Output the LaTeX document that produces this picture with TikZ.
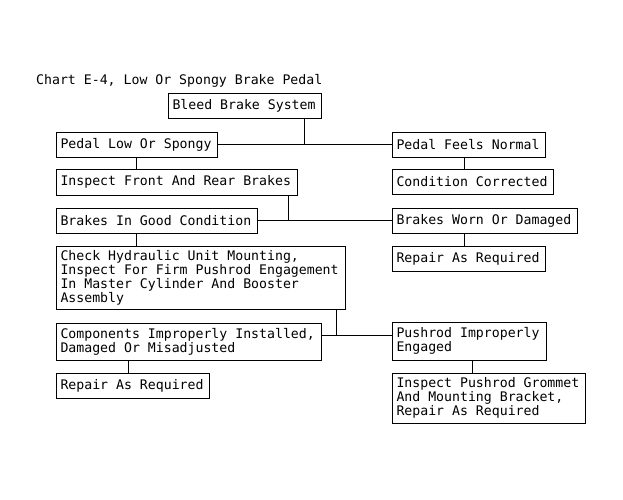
\documentclass[tikz,border=0pt]{standalone}
\usepackage{fontspec}
\newfontfamily\monofam{DejaVu Sans Mono}
\newcommand{\boxfont}{\monofam\fontsize{13.2}{12.5}\selectfont}
\begin{document}
\begin{tikzpicture}[x=1pt,y=-1pt,
  box/.style={draw, line width=1pt, inner xsep=4.5pt, inner ysep=0pt, align=flush left, font=\boxfont},
  link/.style={line width=1pt}]
\useasboundingbox[fill=white] (0,0) rectangle (623,499);
\node[anchor=base west, inner sep=0pt, font=\boxfont] (title) at (36,84) {Chart E-4, Low Or Spongy Brake Pedal};
\node[box, text width=144pt, minimum height=25pt] (bleed) at (244.5,105.5) {Bleed Brake System};
\node[box, text width=152pt, minimum height=25pt] (low) at (136.5,144.5) {Pedal Low Or Spongy};
\node[box, text width=144pt, minimum height=25pt] (normal) at (468.5,144.5) {Pedal Feels Normal};
\node[box, text width=232pt, minimum height=26pt] (inspect) at (176.5,182) {Inspect Front And Rear Brakes};
\node[box, text width=152pt, minimum height=25pt] (corrected) at (472.5,181.5) {Condition Corrected};
\node[box, text width=192pt, minimum height=25pt] (good) at (156.5,220.5) {Brakes In Good Condition};
\node[box, text width=176pt, minimum height=25pt] (worn) at (484.5,220.5) {Brakes Worn Or Damaged};
\node[box, text width=144pt, minimum height=25pt] (repairA) at (468.5,258.5) {Repair As Required};
\node[box, text width=280pt, minimum height=63pt] (check) at (200.5,277.5) {Check Hydraulic Unit Mounting,\\Inspect For Firm Pushrod Engagement\\In Master Cylinder And Booster\\Assembly};
\node[box, text width=256pt, minimum height=37pt] (comp) at (188.5,341.5) {Components Improperly Installed,\\Damaged Or Misadjusted};
\node[box, text width=145pt, minimum height=38pt] (pushrod) at (469,341) {Pushrod Improperly\\Engaged};
\node[box, text width=144pt, minimum height=25pt] (repairB) at (132.5,385.5) {Repair As Required};
\node[box, text width=184pt, minimum height=50pt] (grommet) at (488.5,398) {Inspect Pushrod Grommet\\And Mounting Bracket,\\Repair As Required};
% connectors
\coordinate (j1) at (304,144.5);
\draw[link] (low.east) -- (normal.west);
\draw[link] (bleed.south -| j1) -- (j1);
\draw[link] (low.south) -- (low.south |- inspect.north);
\coordinate (j2) at (288.5,220.5);
\draw[link] (inspect.south -| j2) -- (j2);
\draw[link] (good.east) -- (worn.west);
\draw[link] (low.south |- good.south) -- (low.south |- check.north);
\coordinate (x2) at (464.5,0);
\draw[link] (x2 |- normal.south) -- (x2 |- corrected.north);
\draw[link] (x2 |- worn.south) -- (x2 |- repairA.north);
\coordinate (j3) at (336.5,335);
\draw[link] (check.south -| j3) -- (j3);
\draw[link] (comp.east |- j3) -- (pushrod.west |- j3);
\coordinate (x3) at (128.5,0);
\draw[link] (x3 |- comp.south) -- (x3 |- repairB.north);
\coordinate (x4) at (472.5,0);
\draw[link] (x4 |- pushrod.south) -- (x4 |- grommet.north);
\end{tikzpicture}
\end{document}
